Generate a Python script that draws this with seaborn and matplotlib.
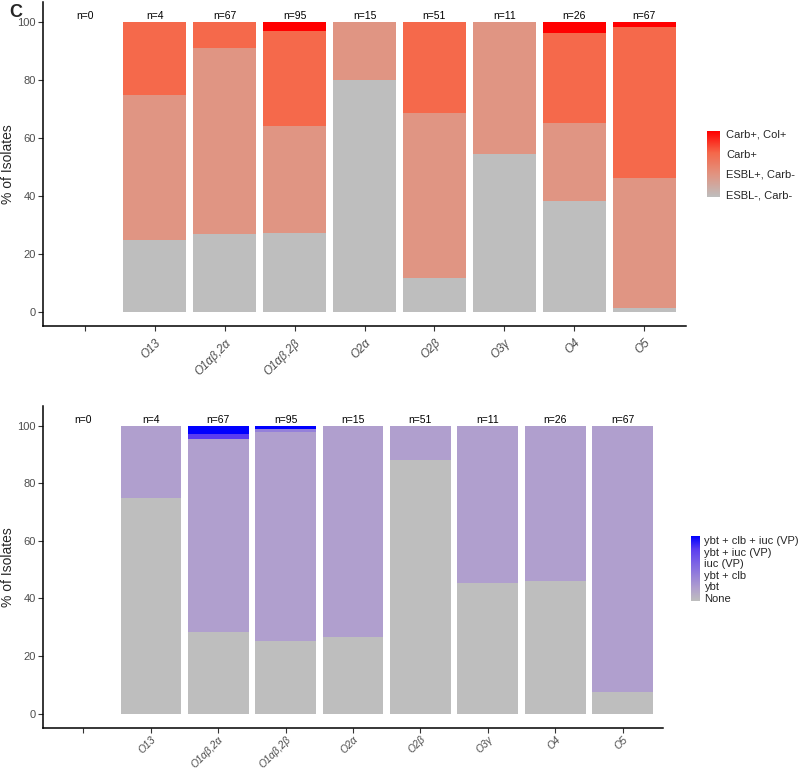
import numpy as np
import pandas as pd
import seaborn as sns
import matplotlib.pyplot as plt
from matplotlib.colors import LinearSegmentedColormap

# Serotypes (first one is the empty placeholder with n=0)
serotypes = ['', 'O13', 'O1αβ,2α', 'O1αβ,2β', 'O2α', 'O2β', 'O3γ', 'O4', 'O5']

# Resistance counts per serotype
amr_levels = ['ESBL-, Carb-', 'ESBL+, Carb-', 'Carb+', 'Carb+, Col+']
esbl_neg = [0, 1, 18, 26, 12, 6, 6, 10, 1]
esbl_pos = [0, 2, 43, 35, 3, 29, 5, 7, 30]
carb_pos = [0, 1, 6, 31, 0, 16, 0, 8, 35]
carb_col = [0, 0, 0, 3, 0, 0, 0, 1, 1]
amr_colors = ['#BEBEBE', '#E09583', '#F5694B', '#FF0000']

# Virulence counts per serotype
vir_levels = ['None', 'ybt', 'ybt + clb', 'iuc (VP)', 'ybt + iuc (VP)', 'ybt + clb + iuc (VP)']
vir_none = [0, 3, 19, 24, 4, 45, 5, 12, 5]
vir_ybt = [0, 1, 45, 69, 11, 6, 6, 14, 62]
vir_ybt_clb = [0, 0, 0, 1, 0, 0, 0, 0, 0]
vir_iuc = [0, 0, 0, 0, 0, 0, 0, 0, 0]
vir_ybt_iuc = [0, 0, 1, 0, 0, 0, 0, 0, 0]
vir_all = [0, 0, 2, 1, 0, 0, 0, 0, 0]
vir_colors = ['#BEBEBE', '#B09FCE', '#9580DA', '#7A60E6', '#5B3DF0', '#0000FF']

sns.set_style('white')
plt.rcParams['font.family'] = ['Liberation Sans', 'DejaVu Sans']

fig = plt.figure(figsize=(8, 7.72), dpi=100)
ax1 = fig.add_axes([0.05375, 1 - 326.5 / 772, 643 / 800, 324.5 / 772])
ax2 = fig.add_axes([0.05375, 1 - 728 / 772, 620 / 800, 322.5 / 772])


def stacked(ax, layers, colors, xfont, xpad):
    counts = np.array(layers, dtype=float)
    n = counts.sum(axis=0)
    pct = np.divide(counts, n, out=np.zeros_like(counts), where=n > 0) * 100
    cum = pct.cumsum(axis=0)
    # draw from the top layer down so lower layers cover the upper ones
    for i in reversed(range(len(layers))):
        df = pd.DataFrame({'serotype': serotypes, 'pct': cum[i]})
        sns.barplot(data=df, x='serotype', y='pct', order=serotypes, color=colors[i],
                    width=0.9, saturation=1, linewidth=0, errorbar=None, ax=ax)
    for x, k in enumerate(n):
        ax.text(x, 102, f'n={int(k)}', ha='center', va='center', fontsize=7.5, color='black')
    ax.set_xlim(-0.6, len(serotypes) - 0.4)
    ax.set_ylim(-5, 107)
    ax.set_yticks([0, 20, 40, 60, 80, 100])
    ax.set_xticks(range(len(serotypes)))
    ax.set_xticklabels(serotypes, rotation=45, ha='right', va='top', rotation_mode='anchor',
                       fontstyle='italic', fontsize=xfont, color='#4D4D4D')
    ax.tick_params(axis='y', labelsize=8, labelcolor='#4D4D4D', length=3.5, width=0.8,
                   color='#333333', left=True, pad=1.5)
    ax.tick_params(axis='x', length=3.5, width=0.8, color='#333333', bottom=True, pad=xpad)
    ax.set_xlabel('')
    ax.set_ylabel('% of Isolates', fontsize=10, labelpad=2)
    for s in ['top', 'right']:
        ax.spines[s].set_visible(False)
    for s in ['left', 'bottom']:
        ax.spines[s].set_color('black')
        ax.spines[s].set_linewidth(1.1)


def gradient_legend(rect, colors, labels, y0, y1):
    lax = fig.add_axes(rect)
    cmap = LinearSegmentedColormap.from_list('grad', colors)
    lax.imshow(np.linspace(0, 1, 256)[:, None], aspect='auto', cmap=cmap, origin='lower')
    lax.set_axis_off()
    for lab, y in zip(labels, np.linspace(y0, y1, len(labels))):
        lax.text(1.5, y, lab, transform=lax.transAxes, ha='left', va='center', fontsize=8)


stacked(ax1, [esbl_neg, esbl_pos, carb_pos, carb_col], amr_colors, 8.5, 4)
stacked(ax2, [vir_none, vir_ybt, vir_ybt_clb, vir_iuc, vir_ybt_iuc, vir_all], vir_colors, 7.5, 1)

gradient_legend([707 / 800, 1 - 197 / 772, 13 / 800, 66 / 772], amr_colors, amr_levels, 0.03, 0.95)
gradient_legend([691 / 800, 1 - 601 / 772, 9 / 800, 65 / 772], vir_colors, vir_levels, 0.03, 0.92)

fig.text(0.012, 0.995, 'C', fontsize=13, fontweight='bold', va='top', ha='left')

fig.savefig('out.png', dpi=100)
